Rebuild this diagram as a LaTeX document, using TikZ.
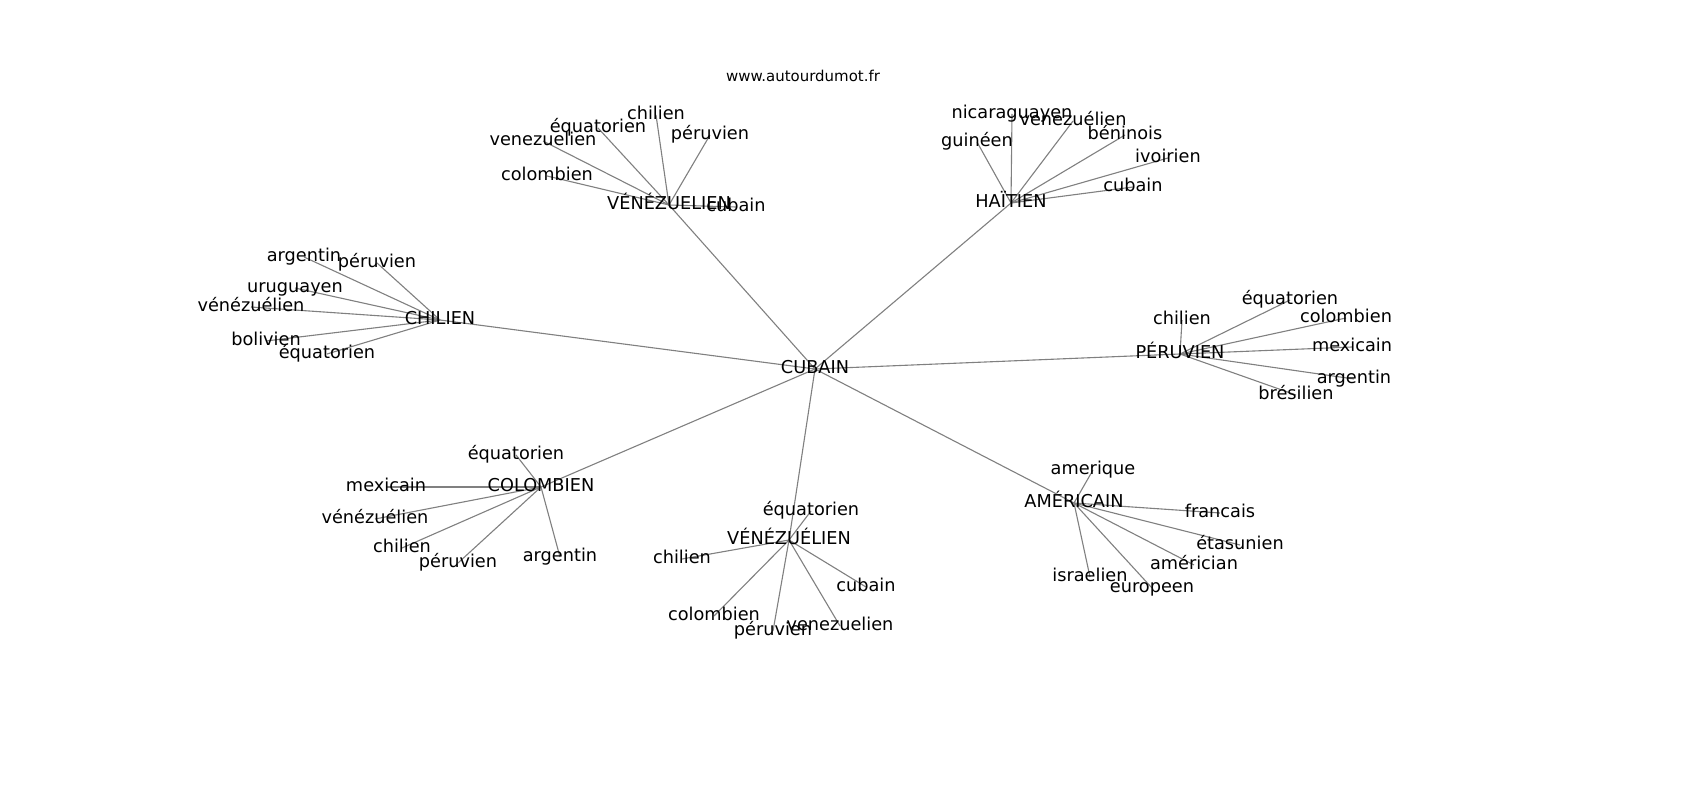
\documentclass[tikz,border=0pt]{standalone}
\usepackage{fontspec}
\setmainfont{DejaVu Sans}
\usetikzlibrary{backgrounds}

\begin{document}
\begin{tikzpicture}[x=0.01in,y=-0.01in,inner sep=0pt,
  lab/.style={font=\fontsize{12.8}{15}\selectfont,text height=9pt,text depth=2.5pt},
  ttl/.style={font=\fontsize{10.8}{13}\selectfont},
  link/.style={draw=gray,line width=0.8pt}]
\useasboundingbox (0,0) rectangle (1700,800);
\node [ttl] (T) at (803,76) {www.autourdumot.fr};
\node [lab] (C) at (815,369) {CUBAIN};
\node [lab] (H1) at (669,205) {VÉNÉZUELIEN};
\node [lab] (H1a) at (656,115) {chilien};
\node [lab] (H1b) at (598,128) {équatorien};
\node [lab] (H1c) at (710,135) {péruvien};
\node [lab] (H1d) at (543,141) {venezuelien};
\node [lab] (H1e) at (547,176) {colombien};
\node [lab] (H1f) at (736,207) {cubain};
\node [lab] (H2) at (1011,203) {HAÏTIEN};
\node [lab] (H2a) at (1012,114) {nicaraguayen};
\node [lab] (H2b) at (1073,121) {venezuélien};
\node [lab] (H2c) at (977,142) {guinéen};
\node [lab] (H2d) at (1125,135) {béninois};
\node [lab] (H2e) at (1168,158) {ivoirien};
\node [lab] (H2f) at (1133,187) {cubain};
\node [lab] (H3) at (440,320) {CHILIEN};
\node [lab] (H3a) at (304,257) {argentin};
\node [lab] (H3b) at (377,263) {péruvien};
\node [lab] (H3c) at (295,288) {uruguayen};
\node [lab] (H3d) at (251,307) {vénézuélien};
\node [lab] (H3e) at (266,341) {bolivien};
\node [lab] (H3f) at (327,354) {équatorien};
\node [lab] (H4) at (1180,354) {PÉRUVIEN};
\node [lab] (H4a) at (1182,320) {chilien};
\node [lab] (H4b) at (1290,300) {équatorien};
\node [lab] (H4c) at (1346,318) {colombien};
\node [lab] (H4d) at (1352,347) {mexicain};
\node [lab] (H4e) at (1354,379) {argentin};
\node [lab] (H4f) at (1296,395) {brésilien};
\node [lab] (H5) at (541,487) {COLOMBIEN};
\node [lab] (H5a) at (516,455) {équatorien};
\node [lab] (H5b) at (386,487) {mexicain};
\node [lab] (H5c) at (375,519) {vénézuélien};
\node [lab] (H5d) at (402,548) {chilien};
\node [lab] (H5e) at (458,563) {péruvien};
\node [lab] (H5f) at (560,557) {argentin};
\node [lab] (H6) at (789,540) {VÉNÉZUÉLIEN};
\node [lab] (H6a) at (811,511) {équatorien};
\node [lab] (H6b) at (682,559) {chilien};
\node [lab] (H6c) at (866,587) {cubain};
\node [lab] (H6d) at (714,616) {colombien};
\node [lab] (H6e) at (773,631) {péruvien};
\node [lab] (H6f) at (840,626) {venezuelien};
\node [lab] (H7) at (1074,503) {AMÉRICAIN};
\node [lab] (H7a) at (1093,470) {amerique};
\node [lab] (H7b) at (1220,513) {francais};
\node [lab] (H7c) at (1240,545) {étasunien};
\node [lab] (H7d) at (1194,565) {américian};
\node [lab] (H7e) at (1090,577) {israelien};
\node [lab] (H7f) at (1152,588) {europeen};
\begin{scope}[on background layer]
\foreach \h in {1,...,7} {
  \draw [link] (C.center) -- (H\h.center);
  \foreach \l in {a,...,f}
    \draw [link] (H\h.center) -- (H\h\l.center);
}
\end{scope}
\end{tikzpicture}
\end{document}
